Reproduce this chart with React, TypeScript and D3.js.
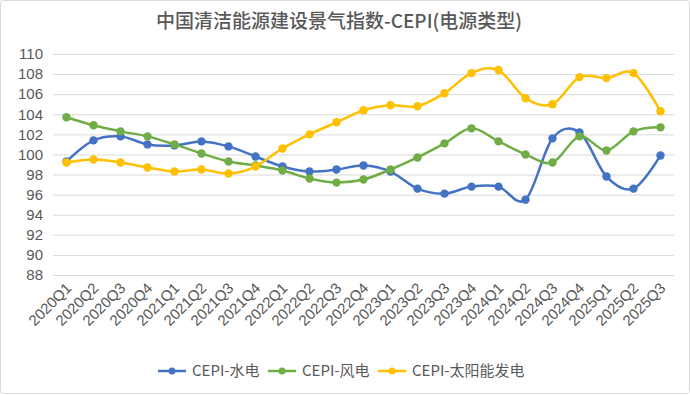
import React, { useRef, useEffect } from 'react';
import * as d3 from 'd3';

const quarters = [
  '2020Q1', '2020Q2', '2020Q3', '2020Q4',
  '2021Q1', '2021Q2', '2021Q3', '2021Q4',
  '2022Q1', '2022Q2', '2022Q3', '2022Q4',
  '2023Q1', '2023Q2', '2023Q3', '2023Q4',
  '2024Q1', '2024Q2', '2024Q3', '2024Q4',
  '2025Q1', '2025Q2', '2025Q3',
];

const hydro = [
  99.3, 101.4, 101.8, 101.0, 100.9, 101.3, 100.8, 99.8,
  98.8, 98.3, 98.5, 98.9, 98.3, 96.6, 96.1, 96.8,
  96.8, 95.5, 101.6, 102.2, 97.8, 96.6, 99.9,
];

const wind = [
  103.7, 102.9, 102.3, 101.8, 101.0, 100.1, 99.3, 98.9,
  98.4, 97.6, 97.2, 97.5, 98.5, 99.7, 101.1, 102.6,
  101.3, 100.0, 99.2, 101.8, 100.4, 102.3, 102.7,
];

const solar = [
  99.2, 99.5, 99.2, 98.7, 98.3, 98.5, 98.1, 98.8,
  100.6, 102.0, 103.2, 104.4, 104.9, 104.8, 106.1, 108.1,
  108.4, 105.6, 105.0, 107.7, 107.6, 108.1, 104.3,
];

const yTicks = [88, 90, 92, 94, 96, 98, 100, 102, 104, 106, 108, 110];

const seriesNames = ['CEPI-水电', 'CEPI-风电', 'CEPI-太阳能发电'];
const seriesColors = ['#4472C4', '#70AD47', '#FFC000'];

const W = 690;
const H = 395;

const App = () => {
  const svgRef = useRef<SVGSVGElement>(null);

  useEffect(() => {
    const svg = d3.select(svgRef.current);
    svg.selectAll('*').remove();

    const margin = { top: 54, right: 16, bottom: 120, left: 53 };
    const plotW = W - margin.left - margin.right;

    const x = d3.scaleBand().domain(quarters).range([margin.left, margin.left + plotW]);
    const y = d3.scaleLinear().domain([88, 110]).range([275, 54]);
    const cx = (d: string) => (x(d) as number) + x.bandwidth() / 2;

    svg.append('rect')
      .attr('x', 0.5).attr('y', 0.5)
      .attr('width', W - 1).attr('height', H - 2)
      .attr('rx', 3)
      .attr('fill', '#fff')
      .attr('stroke', '#d9d9d9');

    svg.append('text')
      .attr('x', 339).attr('y', 28)
      .attr('text-anchor', 'middle')
      .style('font-family', '"Noto Sans CJK SC", sans-serif')
      .style('font-size', '19px')
      .style('font-weight', 500)
      .attr('fill', '#595959')
      .text('中国清洁能源建设景气指数-CEPI(电源类型)');

    // grid + y labels
    const yAxis = svg.append('g')
      .attr('transform', `translate(${margin.left},0)`)
      .call(d3.axisLeft(y).tickValues(yTicks).tickSize(-plotW).tickPadding(10));
    yAxis.select('.domain').remove();
    yAxis.selectAll('line').attr('stroke', '#d9d9d9');
    yAxis.selectAll('text')
      .attr('fill', '#595959')
      .style('font-family', '"Liberation Sans", Arial, sans-serif')
      .style('font-size', '15px');

    // x labels
    svg.append('g')
      .selectAll('text')
      .data(quarters)
      .enter()
      .append('text')
      .attr('transform', d => `translate(${cx(d) + 6},${289}) rotate(-45)`)
      .attr('text-anchor', 'end')
      .attr('fill', '#595959')
      .style('font-family', '"Liberation Sans", Arial, sans-serif')
      .style('font-size', '15px')
      .text(d => d);

    const allSeries = [hydro, wind, solar];
    const line = d3.line<number>()
      .x((_, i) => cx(quarters[i]))
      .y(d => y(d))
      .curve(d3.curveCatmullRom.alpha(0));

    allSeries.forEach((vals, si) => {
      const g = svg.append('g');
      g.append('path')
        .datum(vals)
        .attr('d', line)
        .attr('fill', 'none')
        .attr('stroke', seriesColors[si])
        .attr('stroke-width', 2.5)
        .attr('stroke-linecap', 'round');
      g.selectAll('circle')
        .data(vals)
        .enter()
        .append('circle')
        .attr('cx', (_, i) => cx(quarters[i]))
        .attr('cy', d => y(d))
        .attr('r', 4.2)
        .attr('fill', seriesColors[si]);
    });

    // legend
    const legendX = [158, 268, 378];
    const legendY = 371;
    seriesNames.forEach((name, i) => {
      const lg = svg.append('g').attr('transform', `translate(${legendX[i]},${legendY})`);
      lg.append('line')
        .attr('x1', 0).attr('x2', 28)
        .attr('stroke', seriesColors[i])
        .attr('stroke-width', 2.5);
      lg.append('circle').attr('cx', 14).attr('r', 3.5).attr('fill', seriesColors[i]);
      lg.append('text')
        .attr('x', 34).attr('dy', '0.36em')
        .attr('fill', '#595959')
        .style('font-family', '"Noto Sans CJK SC", sans-serif')
        .style('font-size', '15px')
        .text(name);
    });
  }, []);

  return (
    <svg
      ref={svgRef}
      width={W}
      height={H}
      style={{ position: 'absolute', left: 0, top: 0, background: '#fff' }}
    />
  );
};

export default App;
